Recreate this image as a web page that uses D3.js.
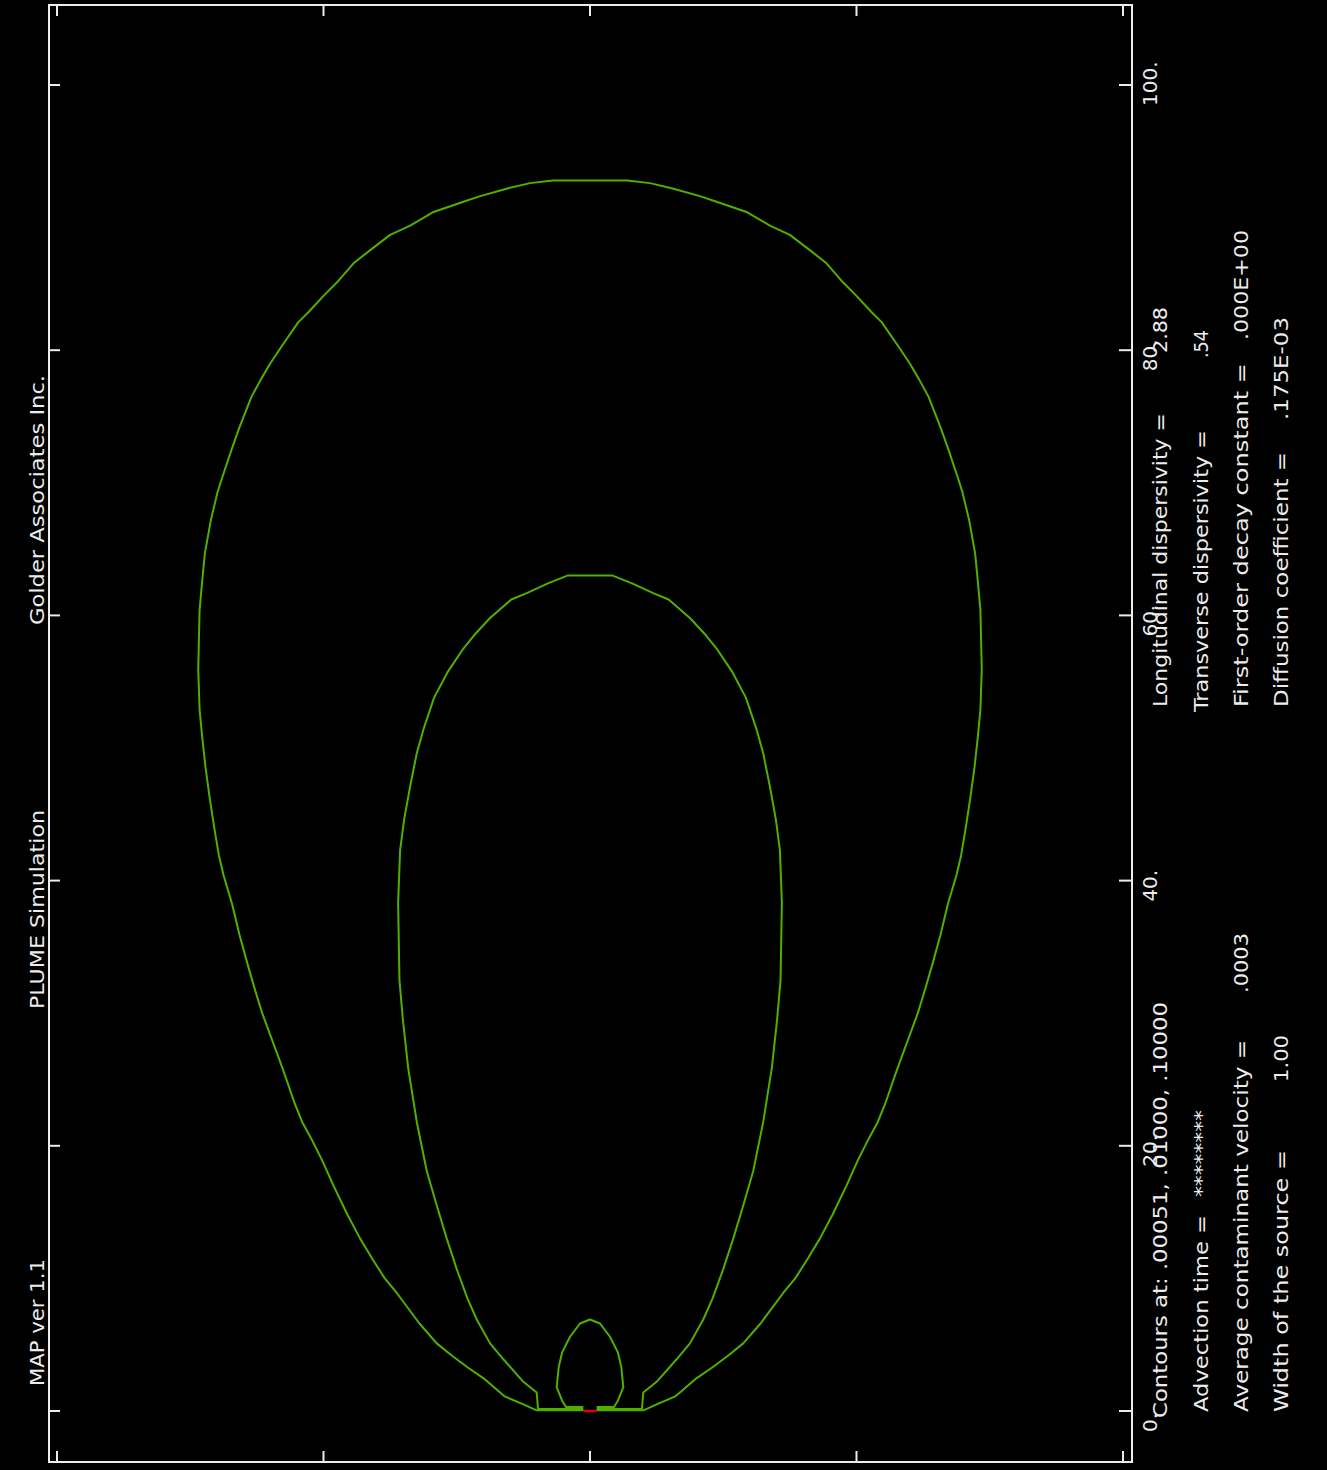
<!DOCTYPE html>
<html>
<head>
<meta charset="utf-8">
<script src="https://cdn.jsdelivr.net/npm/d3@7"></script>
<style>
  html, body { margin: 0; padding: 0; background: #000; }
  svg { display: block; }
</style>
</head>
<body>
<script>
// ---- PLUME simulation: concentration contours around a line source ----
// Each contour is a half-profile: [distance downstream L, half-width W],
// mirrored about the plume centreline (W = 0).

const contourLevels = [0.00051, 0.01000, 0.10000];

const outerProfile = [
  [92.8,0],[92.8,2.8],[92.6,4.5],[92.2,6.2],[91.6,8.3],[91.2,9.5],[90.4,11.8],
  [89.4,13.5],[88.7,15.0],[87.7,16.3],[86.6,17.7],[85.1,19.0],[84.1,20.0],
  [82.9,21.1],[82.1,21.9],[80.2,23.2],[79.0,24.0],[77.8,24.7],[76.5,25.4],
  [74.2,26.3],[72.5,26.9],[70.4,27.6],[69.3,27.95],[67.2,28.45],[64.7,28.9],
  [62.1,29.15],[60.4,29.3],[55.9,29.4],[52.9,29.3],[50.8,29.1],[48.5,28.85],
  [46.3,28.55],[44.0,28.2],[41.9,27.85],[40.4,27.5],[38.2,26.85],[35.9,26.3],
  [33.7,25.7],[31.8,25.15],[30.0,24.6],[28.5,24.05],[26.6,23.35],[25.2,22.85],
  [23.3,22.2],[21.8,21.6],[20.5,20.9],[18.9,20.1],[17.0,19.25],[14.8,18.2],
  [13.0,17.25],[11.5,16.35],[10.0,15.4],[8.9,14.5],[6.6,12.8],[5.1,11.5],
  [4.2,10.4],[3.3,9.2],[2.4,7.9],[1.1,6.4],[0.5,5.0],[0.05,4.0],[0.05,0.5]
];

const middleProfile = [
  [63.0,0],[63.0,1.7],[62.4,3.2],[61.7,4.7],[61.2,5.9],[59.8,7.5],[58.5,8.7],
  [57.5,9.5],[55.7,10.7],[53.8,11.7],[51.4,12.5],[49.6,13.0],[47.1,13.5],
  [44.6,13.95],[42.3,14.25],[38.3,14.4],[32.5,14.3],[29.6,14.05],[25.9,13.65],
  [21.8,13.0],[18.1,12.25],[15.5,11.5],[13.0,10.75],[10.7,10.0],[8.5,9.2],
  [6.9,8.5],[5.1,7.5],[3.9,6.5],[2.2,5.0],[1.4,4.0],[0.15,3.9],[0.15,0.5]
];

const innerProfile = [
  [6.9,0],[6.6,0.75],[5.6,1.5],[4.4,2.1],[3.3,2.35],[1.8,2.5],[0.8,2.1],
  [0.3,1.8],[0.3,0.5]
];

// Axis ticks (distance downstream and across)
const lengthTicks = [0, 20, 40, 60, 80, 100];
const widthTicks = [-40, -20, 0, 20, 40];

// Simulation parameters
const sourceWidth = 1.00;
const paramLabels = [
  "Advection time =", "Average contaminant velocity =", "Width of the source =",
  "Longitudinal dispersivity =", "Transverse dispersivity =",
  "First-order decay constant =", "Diffusion coefficient ="
];
const paramValues = ["********", ".0003", "1.00", "2.88", ".54", ".000E+00", ".175E-03"];

const headerTexts = ["Golder Associates Inc.", "PLUME Simulation", "MAP ver  1.1"];

// ---- drawing ----
const W = 1327, H = 1470;
const svg = d3.select("body").append("svg")
  .attr("width", W).attr("height", H)
  .style("background", "#000");

const x = d3.scaleLinear().domain([-40, 40]).range([57, 1123]);
const y = d3.scaleLinear().domain([0, 100]).range([1411, 85]);

const frame = { left: 49, right: 1132, top: 5, bottom: 1462 };
const ink = "#ececec";
const green = "#4fb000";

// frame
svg.append("rect")
  .attr("x", frame.left).attr("y", frame.top)
  .attr("width", frame.right - frame.left).attr("height", frame.bottom - frame.top)
  .attr("fill", "none").attr("stroke", ink).attr("stroke-width", 2);

// ticks: inward on all four sides
const tickLen = 11;
const tg = svg.append("g").attr("stroke", ink).attr("stroke-width", 2);
lengthTicks.forEach(v => {
  tg.append("line").attr("x1", frame.left).attr("x2", frame.left + tickLen)
    .attr("y1", y(v)).attr("y2", y(v));
  tg.append("line").attr("x1", frame.right).attr("x2", frame.right - tickLen - 2)
    .attr("y1", y(v)).attr("y2", y(v));
});
widthTicks.forEach(v => {
  tg.append("line").attr("x1", x(v)).attr("x2", x(v))
    .attr("y1", frame.top).attr("y2", frame.top + tickLen);
  tg.append("line").attr("x1", x(v)).attr("x2", x(v))
    .attr("y1", frame.bottom).attr("y2", frame.bottom - tickLen);
});

// contours
const line = d3.line().x(d => x(d[0])).y(d => y(d[1]));
function mirrored(profile) {
  const left = profile.slice().reverse().map(([L, w]) => [-w, L]);
  const right = profile.slice(1).map(([L, w]) => [w, L]);
  return left.concat(right);
}
const cg = svg.append("g").attr("fill", "none").attr("stroke", green)
  .attr("stroke-width", 2).attr("stroke-linejoin", "round");
[outerProfile, middleProfile, innerProfile].forEach(p => {
  cg.append("path").attr("d", line(mirrored(p)));
});

// line source
svg.append("line")
  .attr("x1", x(-sourceWidth / 2)).attr("x2", x(sourceWidth / 2))
  .attr("y1", y(0)).attr("y2", y(0))
  .attr("stroke", "#e00000").attr("stroke-width", 2.5);

// rotated text helper (reads bottom-to-top)
function vtext(bx, sy, str, len, size) {
  const t = svg.append("text")
    .attr("transform", `translate(${bx},${sy}) rotate(-90)`)
    .attr("fill", ink)
    .attr("font-family", "DejaVu Sans, sans-serif")
    .attr("font-size", size || 20)
    .text(str);
  if (len) t.attr("textLength", len).attr("lengthAdjust", "spacingAndGlyphs");
  return t;
}

// header (left margin)
const headerPos = [[625, 250], [1009, 199], [1386, 127]];
headerTexts.forEach((s, i) => vtext(44, headerPos[i][0], s, headerPos[i][1], 20));

// tick labels along the distance axis
lengthTicks.forEach(v => vtext(1157, y(v) + 21, v + ".", null, 20));

// contour level list
const fmtLevel = v => v.toFixed(5).replace(/^0/, "");
vtext(1167, 1418, "Contours at: " + contourLevels.map(fmtLevel).join(", "), 416, 20);

// parameter block: [baseline x, label start, label length, value start, value length]
const paramPos = [
  [1208, 1412, 197, 1197, 87],
  [1248, 1412, 372, 993, 60],
  [1288, 1412, 262, 1082, 47],
  [1167, 707, 294, 353, 46],
  [1208, 712, 282, 358, 28],
  [1248, 707, 344, 340, 110],
  [1288, 707, 255, 420, 103]
];
paramLabels.forEach((s, i) => {
  const [bx, ls, ll, vs, vl] = paramPos[i];
  vtext(bx, ls, s, ll, 20);
  vtext(bx, vs, paramValues[i], vl, 20);
});
</script>
</body>
</html>
